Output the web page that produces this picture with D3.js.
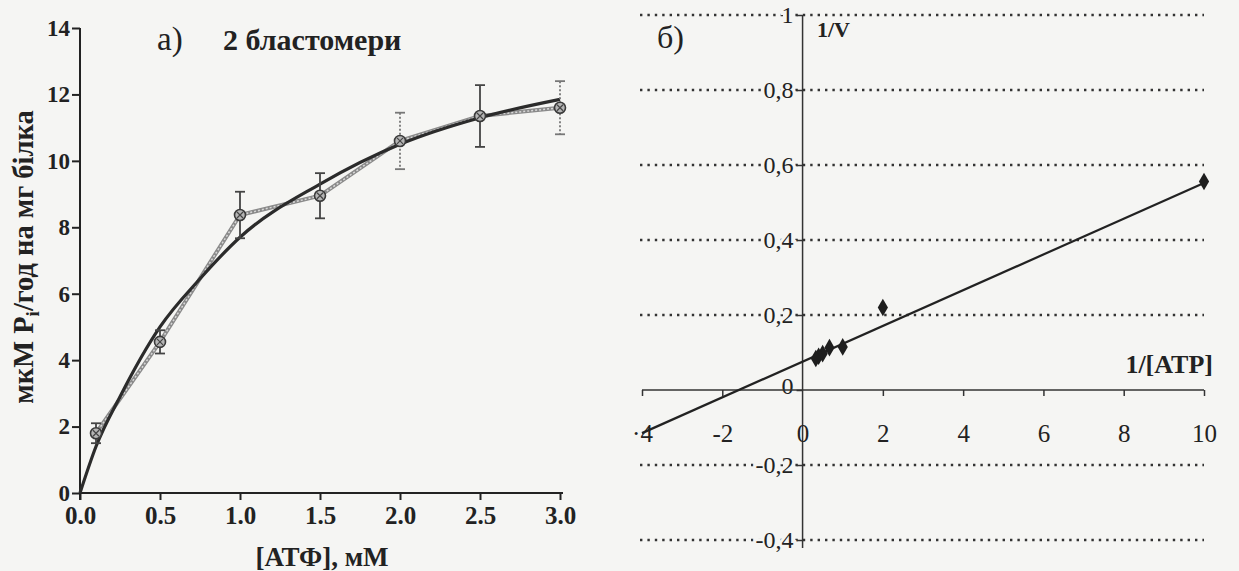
<!DOCTYPE html>
<html>
<head>
<meta charset="utf-8">
<script src="https://cdn.jsdelivr.net/npm/d3@7"></script>
<style>
  body { margin: 0; background: #f5f5f3; }
</style>
</head>
<body>
<div id="container"></div>
<script>
let w = 1239;
let h = 571;
let bg = "#f5f5f3";

// panel a) data
let concA = [0.1, 0.5, 1.0, 1.5, 2.0, 2.5, 3.0];
let rateA = [1.8, 4.55, 8.37, 8.95, 10.6, 11.35, 11.6];
let errA = [0.3, 0.35, 0.7, 0.68, 0.85, 0.93, 0.8];
let dottedErr = [false, false, false, false, true, false, true];
let fitX = [0, 0.1, 0.25, 0.5, 0.75, 1.0, 1.5, 2.0, 2.5, 3.0];
let fitY = [0, 1.4, 2.9, 5.0, 6.45, 7.7, 9.3, 10.5, 11.3, 11.85];
let ticksAX = [0, 0.5, 1.0, 1.5, 2.0, 2.5, 3.0];
let ticksAY = [0, 2, 4, 6, 8, 10, 12, 14];

// panel б) data (Lineweaver-Burk)
let invS = [10, 2, 1, 0.67, 0.5, 0.4, 0.33];
let invV = [0.556, 0.22, 0.115, 0.113, 0.097, 0.09, 0.084];
let lineX = [-4, 10];
let lineY = [-0.115, 0.552];
let ticksBX = [-4, -2, 0, 2, 4, 6, 8, 10];
let ticksBY = [-0.4, -0.2, 0, 0.2, 0.4, 0.6, 0.8, 1];

let viz = d3.select("#container").append("svg")
    .attr("width", w)
    .attr("height", h)
    .style("display", "block")
    .style("background-color", bg);

// ---------- panel a ----------
let xA = d3.scaleLinear().domain([0, 3]).range([80, 560]);
let yA = d3.scaleLinear().domain([0, 14]).range([493, 28]);

let gA = viz.append("g");

let yAxisA = d3.axisLeft(yA).tickValues(ticksAY).tickSize(8).tickPadding(2).tickFormat(d3.format("d"));
gA.append("g").attr("transform", "translate(80,0)").call(yAxisA)
    .call(g => {
      g.select(".domain").attr("d", "M0,28V500").attr("stroke", "#222").attr("stroke-width", 2);
      g.selectAll(".tick line").attr("stroke", "#222").attr("stroke-width", 2);
      g.selectAll(".tick text").attr("font-size", 23).attr("font-weight", "bold").attr("fill", "#222");
    });

let xAxisA = d3.axisBottom(xA).tickValues(ticksAX).tickSize(7).tickPadding(6).tickFormat(d3.format(".1f"));
gA.append("g").attr("transform", "translate(0,493)").call(xAxisA)
    .call(g => {
      g.select(".domain").attr("d", "M80,0H563").attr("stroke", "#222").attr("stroke-width", 2);
      g.selectAll(".tick line").attr("stroke", "#222").attr("stroke-width", 2);
      g.selectAll(".tick text").attr("font-size", 25).attr("font-weight", "bold").attr("fill", "#222");
    });

// measured points line (gray, hatched look)
let ptsA = concA.map((c, i) => [c, rateA[i]]);
let lineA = d3.line().x(d => xA(d[0])).y(d => yA(d[1]));
gA.append("path").attr("d", lineA(ptsA)).attr("fill", "none")
    .attr("stroke", "#8a8a8a").attr("stroke-width", 4);
gA.append("path").attr("d", lineA(ptsA)).attr("fill", "none")
    .attr("stroke", "#d8d8d8").attr("stroke-width", 1.5).attr("stroke-dasharray", "2,2");

// fitted curve
let fitPts = fitX.map((c, i) => [c, fitY[i]]);
let curveA = d3.line().x(d => xA(d[0])).y(d => yA(d[1])).curve(d3.curveMonotoneX);
gA.append("path").attr("d", curveA(fitPts)).attr("fill", "none")
    .attr("stroke", "#2b2b2b").attr("stroke-width", 3.2);

// error bars
ptsA.forEach((d, i) => {
  let cx = xA(d[0]);
  let top = yA(d[1] + errA[i]);
  let bot = yA(d[1] - errA[i]);
  let col = dottedErr[i] ? "#777" : "#444";
  let eb = gA.append("g").attr("stroke", col).attr("stroke-width", 1.8);
  eb.append("line").attr("x1", cx).attr("x2", cx).attr("y1", top).attr("y2", bot)
      .attr("stroke-dasharray", dottedErr[i] ? "2,2" : null);
  eb.append("line").attr("x1", cx - 5).attr("x2", cx + 5).attr("y1", top).attr("y2", top);
  eb.append("line").attr("x1", cx - 5).attr("x2", cx + 5).attr("y1", bot).attr("y2", bot);
});

// markers
gA.selectAll(".mk").data(ptsA).enter().append("circle")
    .attr("class", "mk")
    .attr("cx", d => xA(d[0])).attr("cy", d => yA(d[1])).attr("r", 5.5)
    .attr("fill", "#b5b5b5").attr("stroke", "#3a3a3a").attr("stroke-width", 1.6);
gA.selectAll(".mkx").data(ptsA).enter().append("path")
    .attr("class", "mkx")
    .attr("d", d => {
      let cx = xA(d[0]), cy = yA(d[1]);
      return `M${cx - 3},${cy - 3}L${cx + 3},${cy + 3}M${cx - 3},${cy + 3}L${cx + 3},${cy - 3}`;
    })
    .attr("stroke", "#444").attr("stroke-width", 1.2);

// texts panel a
gA.append("text").attr("x", 157).attr("y", 50).attr("font-size", 33).attr("fill", "#222").text("а)");
gA.append("text").attr("x", 223).attr("y", 50).attr("font-size", 30).attr("font-weight", "bold")
    .attr("fill", "#222").text("2 бластомери");

let yl = gA.append("text").attr("transform", "translate(33,257) rotate(-90)")
    .attr("text-anchor", "middle").attr("font-size", 28.5).attr("font-weight", "bold").attr("fill", "#222");
yl.append("tspan").text("мкМ P");
yl.append("tspan").attr("font-size", 19).attr("dy", 6).text("i");
yl.append("tspan").attr("dy", -6).text("/год на мг білка");

gA.append("text").attr("x", 322).attr("y", 566).attr("text-anchor", "middle")
    .attr("font-size", 27).attr("font-weight", "bold").attr("fill", "#222").text("[АТФ], мМ");

// ---------- panel б ----------
let xB = d3.scaleLinear().domain([-4, 10]).range([642, 1204]);
let yB = d3.scaleLinear().domain([-0.4, 1]).range([540, 15]);

let gB = viz.append("g");

// dotted gridlines
gB.selectAll(".grid").data(ticksBY.filter(d => d !== 0)).enter().append("line")
    .attr("class", "grid")
    .attr("x1", 640).attr("x2", 1204)
    .attr("y1", d => yB(d)).attr("y2", d => yB(d))
    .attr("stroke", "#333").attr("stroke-width", 2.4).attr("stroke-dasharray", "2.4,5");

let yAxisB = d3.axisLeft(yB).tickValues(ticksBY).tickSize(6).tickPadding(3)
    .tickFormat(d => d === 0 ? "0" : (d === 1 ? "1" : d3.format(".1f")(d).replace(".", ",").replace("−", "-")));
gB.append("g").attr("transform", `translate(${xB(0)},0)`).call(yAxisB)
    .call(g => {
      g.select(".domain").attr("d", "M0,15V548").attr("stroke", "#333").attr("stroke-width", 1.5);
      g.selectAll(".tick line").attr("stroke", "#333").attr("stroke-width", 1.5);
      g.selectAll(".tick text").attr("font-size", 24).attr("fill", "#222")
        .attr("stroke", bg).attr("stroke-width", 6).attr("paint-order", "stroke");
      g.selectAll(".tick").filter(d => d === 0).select("text").attr("dy", "0.15em");
    });

let xAxisB = d3.axisBottom(xB).tickValues(ticksBX).tickSize(6).tickPadding(28)
    .tickFormat(d => d === -4 ? "·4" : String(d));
gB.append("g").attr("transform", `translate(0,${yB(0)})`).call(xAxisB)
    .call(g => {
      g.select(".domain").attr("d", "M642,0H1204").attr("stroke", "#333").attr("stroke-width", 1.5);
      g.selectAll(".tick line").attr("stroke", "#333").attr("stroke-width", 1.5);
      g.selectAll(".tick").filter(d => d === 0).select("line").remove();
      g.selectAll(".tick text").attr("font-size", 25).attr("fill", "#222");
    });

// regression line
let lbPts = lineX.map((c, i) => [c, lineY[i]]);
gB.append("path").attr("d", d3.line().x(d => xB(d[0])).y(d => yB(d[1]))(lbPts))
    .attr("fill", "none").attr("stroke", "#222").attr("stroke-width", 2.2);

// diamonds
let ptsB = invS.map((c, i) => [c, invV[i]]);
gB.selectAll(".dm").data(ptsB).enter().append("path")
    .attr("class", "dm")
    .attr("transform", d => `translate(${xB(d[0])},${yB(d[1])})`)
    .attr("d", d3.symbol().type(d3.symbolDiamond).size(90))
    .attr("fill", "#1e1e1e");

// texts panel б
gB.append("text").attr("x", 657).attr("y", 48).attr("font-size", 32).attr("fill", "#222").text("б)");
gB.append("text").attr("x", 817).attr("y", 37).attr("font-size", 22).attr("font-weight", "bold")
    .attr("fill", "#222").text("1/V");
gB.append("text").attr("x", 1213).attr("y", 373).attr("text-anchor", "end").attr("font-size", 26)
    .attr("font-weight", "bold").attr("fill", "#222").text("1/[ATP]");

// all text in a Times-like serif, as in the printed figure
viz.selectAll("text").style("font-family", "'Liberation Serif', serif");
</script>
</body>
</html>
